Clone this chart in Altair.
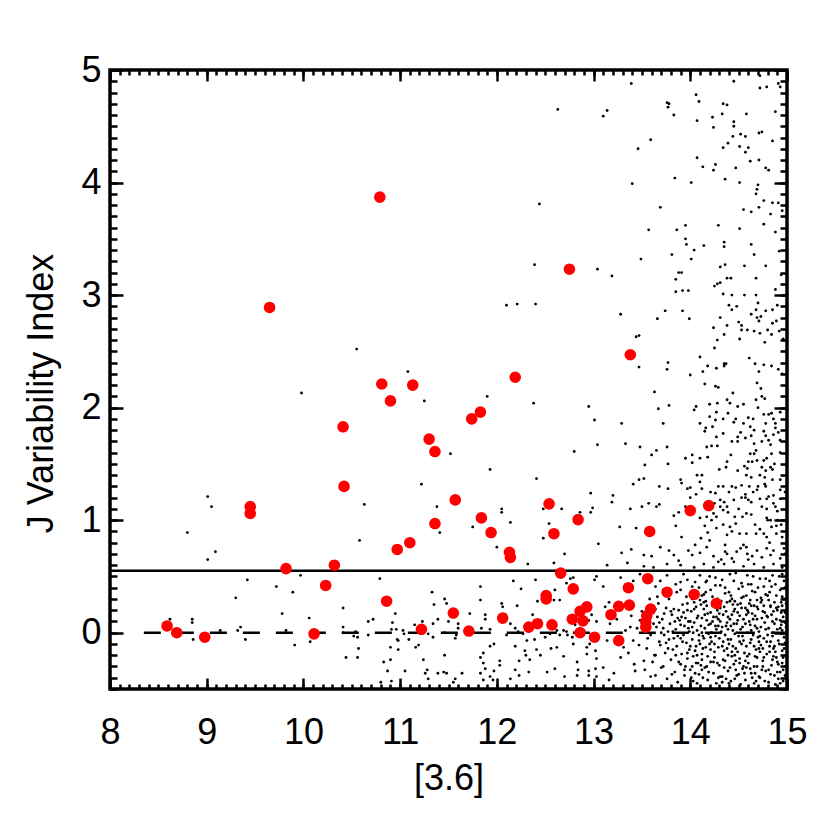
import altair as alt
import pandas as pd

# ---------------- data ----------------
# red: variable members  ([3.6] magnitude, J index)
members = [
    (10.79, 3.87), (9.65, 2.89), (10.81, 2.21), (11.13, 2.20), (10.90, 2.06), (10.41, 1.83),
    (11.30, 1.72), (11.36, 1.61), (10.42, 1.30), (9.45, 1.12), (9.45, 1.06), (11.36, 0.97),
    (11.10, 0.80), (10.97, 0.74), (10.32, 0.60), (9.82, 0.57), (10.23, 0.42), (10.86, 0.28),
    (8.59, 0.06), (8.69, 0.00), (8.98, -0.04), (10.11, -0.01), (11.22, 0.03), (11.57, 1.18),
    (12.75, 3.23), (13.38, 2.47), (12.19, 2.27), (11.83, 1.96), (11.74, 1.90), (12.54, 1.145),
    (11.84, 1.02), (12.84, 1.005), (11.94, 0.89), (12.59, 0.88), (13.58, 0.90), (14.00, 1.085),
    (14.19, 1.13), (12.13, 0.715), (12.14, 0.67), (12.66, 0.53), (13.56, 0.48), (13.36, 0.40),
    (12.79, 0.39), (12.51, 0.33), (12.51, 0.30), (13.76, 0.36), (14.04, 0.34), (14.27, 0.26),
    (11.55, 0.175), (11.71, 0.015), (12.06, 0.13), (12.33, 0.05), (12.42, 0.08), (12.57, 0.07),
    (12.78, 0.12), (12.86, 0.19), (12.93, 0.23), (12.89, 0.105), (12.86, 0.00), (13.01, -0.04),
    (13.18, 0.16), (13.26, 0.235), (13.37, 0.245), (13.26, -0.07), (13.59, 0.21), (13.55, 0.15),
    (13.54, 0.095), (13.54, 0.05),
]

# black: field sources, grouped by region of the plot
field_left = [
    (10.55, 2.52), (11.08, 2.32), (9.98, 2.13), (11.25, 2.06), (11.22, 1.32), (10.63, 1.14),
    (11.38, 1.12), (10.58, 0.82), (9.01, 1.21), (9.05, 1.12), (8.80, 0.89), (9.09, 0.72),
    (9.01, 0.65), (9.97, 0.51), (10.79, 0.48), (9.42, 0.47), (9.72, 0.41), (9.89, 0.36),
    (9.30, 0.31), (9.78, 0.17), (10.41, 0.22), (10.06, 0.13), (8.62, 0.12), (8.85, 0.12),
    (8.85, 0.09), (9.14, 0.02), (9.32, 0.02), (9.35, 0.05), (9.82, 0.02), (8.86, -0.06),
    (9.40, -0.06), (9.91, -0.11), (10.07, -0.08), (10.41, 0.05), (10.52, -0.03), (10.56, -0.04),
    (10.54, 0.01), (10.57, -0.14), (10.44, -0.22), (10.56, -0.22), (10.67, 0.10), (10.67, -0.02),
    (10.72, 0.12), (10.83, -0.26), (10.87, -0.34), (10.80, -0.44), (10.91, -0.43),
]
field_left_mid = [
    (10.41, 0.00), (10.95, 0.17), (10.92, 0.09), (10.91, 0.03), (10.96, 0.03), (11.03, 0.02),
    (11.04, -0.01), (10.97, -0.06), (10.98, -0.07), (11.09, -0.06), (11.34, -0.04), (11.29, -0.01),
    (10.90, -0.13), (10.98, -0.15), (11.19, -0.11), (11.16, -0.13), (10.90, -0.24), (11.24, -0.24),
    (11.05, -0.34), (11.28, -0.33), (11.26, -0.36), (11.29, -0.41), (11.39, -0.36), (11.33, 0.36),
    (11.35, 0.25), (11.39, 0.12), (11.34, 0.08), (11.23, 0.10), (11.15, 0.07),
]
field_mid_upper = [
    (12.63, 4.65), (12.44, 3.81), (12.39, 3.27), (13.04, 3.23), (13.19, 3.17), (12.10, 2.91),
    (12.21, 2.92), (12.40, 2.92), (13.28, 2.83), (13.44, 2.63), (13.47, 2.64), (13.47, 2.36),
    (13.49, 3.32), (13.57, 3.58), (11.90, 2.10), (12.38, 2.04), (12.95, 2.01), (13.01, 1.89),
    (13.04, 1.67), (12.80, 1.61), (11.52, 1.59), (11.93, 1.45), (12.41, 1.37), (12.97, 1.24),
    (12.99, 1.11), (12.97, 1.07), (12.86, 1.07), (12.05, 1.10), (12.05, 1.07), (12.48, 1.10),
    (12.67, 1.10), (12.14, 0.98), (11.75, 0.94), (12.54, 0.97), (12.48, 0.84), (11.41, 0.89),
]
field_top_right = [
    (13.39, 4.88), (13.14, 4.64), (13.10, 4.59), (13.76, 4.71), (13.78, 4.70), (13.77, 4.67),
    (13.83, 4.60), (14.06, 4.78), (14.09, 4.72), (14.07, 4.55), (14.45, 4.90), (14.72, 4.95),
    (14.72, 4.84), (14.79, 4.85), (14.91, 4.88), (14.93, 4.85), (14.34, 4.70), (14.38, 4.69),
    (14.33, 4.61), (14.23, 4.58), (14.24, 4.49), (14.45, 4.54), (14.45, 4.50), (14.58, 4.61),
    (14.88, 4.63), (13.59, 4.38), (13.46, 4.30), (14.44, 4.41), (14.52, 4.43), (14.57, 4.41),
    (14.71, 4.44), (14.74, 4.45), (14.85, 4.37), (14.39, 4.35), (14.34, 4.31), (14.51, 4.32),
    (14.60, 4.31), (14.57, 4.27), (14.07, 4.22), (14.13, 4.14), (14.26, 4.16), (14.24, 4.11),
    (14.47, 4.13), (14.62, 4.19), (14.71, 4.20), (14.78, 4.13), (14.81, 4.11), (13.40, 3.99),
    (13.84, 4.04), (14.01, 4.00), (14.36, 4.03), (14.51, 4.00), (14.70, 3.98), (14.69, 3.94),
    (14.68, 3.90), (14.76, 3.84), (14.85, 3.82), (14.91, 3.82), (13.69, 3.78), (14.55, 3.76),
    (14.63, 3.74), (14.71, 3.78), (14.83, 3.72), (14.95, 3.75),
]
field_upper_right = [
    (13.86, 3.58), (13.95, 3.62), (14.29, 3.62), (14.51, 3.59), (14.76, 3.63), (14.88, 3.56),
    (13.95, 3.50), (13.96, 3.45), (14.14, 3.44), (14.35, 3.47), (14.35, 3.43), (14.63, 3.45),
    (14.04, 3.40), (13.81, 3.36), (14.66, 3.36), (14.92, 3.39), (14.01, 3.32), (14.36, 3.27),
    (14.31, 3.25), (14.56, 3.26), (14.78, 3.26), (13.88, 3.20), (13.91, 3.20), (13.85, 3.14),
    (14.38, 3.15), (14.42, 3.15), (14.68, 3.15), (14.94, 3.18), (14.31, 3.11), (14.28, 3.10),
    (14.25, 3.08), (13.85, 3.03), (13.92, 3.04), (13.98, 3.04), (14.88, 3.05), (14.34, 3.01),
    (14.43, 3.00), (14.56, 3.00), (14.68, 3.00), (14.70, 2.93), (14.40, 2.91), (14.48, 2.90),
    (14.43, 2.87), (14.68, 2.87), (14.63, 2.83), (14.78, 2.86), (14.85, 2.87), (14.90, 2.91),
    (13.74, 2.86), (13.92, 2.86), (13.66, 2.79), (13.99, 2.79), (14.31, 2.80), (14.69, 2.80),
    (14.73, 2.81), (14.71, 2.77), (14.50, 2.76), (14.53, 2.73), (14.38, 2.73), (14.24, 2.71),
    (14.89, 2.77), (14.85, 2.75), (14.53, 2.69), (14.59, 2.69), (14.66, 2.68), (14.80, 2.69),
    (14.72, 2.66), (14.84, 2.65), (14.92, 2.68), (14.35, 2.65), (14.28, 2.60), (14.51, 2.61),
    (14.77, 2.58), (14.96, 2.61), (14.25, 2.53), (14.10, 2.45), (14.61, 2.44), (13.77, 2.40),
    (13.76, 2.34), (14.18, 2.37), (14.27, 2.35), (14.35, 2.39), (14.37, 2.39), (14.35, 2.37),
    (14.67, 2.39), (14.76, 2.38), (14.84, 2.37), (14.91, 2.34), (14.13, 2.32), (14.00, 2.29),
    (14.71, 2.32), (14.95, 2.30),
]
field_mid_right = [
    (13.63, 2.14), (14.15, 2.21), (14.26, 2.19), (14.29, 2.18), (14.69, 2.22), (14.73, 2.17),
    (14.44, 2.13), (14.74, 2.10), (14.77, 2.08), (14.68, 2.07), (13.78, 2.02), (13.67, 1.99),
    (14.06, 2.01), (14.04, 1.98), (14.20, 2.03), (14.28, 2.04), (14.38, 2.07), (14.41, 2.04),
    (14.49, 2.01), (14.55, 2.03), (14.27, 1.96), (14.39, 1.95), (14.76, 1.94), (14.81, 1.94),
    (14.84, 1.95), (14.93, 1.96), (14.20, 1.92), (14.26, 1.89), (14.34, 1.90), (14.60, 1.91),
    (14.65, 1.90), (14.86, 1.90), (14.88, 1.86), (13.29, 1.86), (13.72, 1.86), (14.10, 1.86),
    (14.45, 1.87), (14.55, 1.86), (14.16, 1.82), (14.23, 1.83), (14.62, 1.83), (14.78, 1.86),
    (14.15, 1.79), (14.34, 1.77), (14.52, 1.78), (14.66, 1.80), (14.76, 1.79), (14.86, 1.76),
    (14.91, 1.78), (14.27, 1.74), (14.49, 1.74), (14.57, 1.73), (14.63, 1.75), (14.78, 1.75),
    (14.81, 1.71), (14.43, 1.70), (14.49, 1.70), (14.93, 1.71), (13.33, 1.68), (14.66, 1.68),
    (14.83, 1.67), (13.48, 1.65), (13.76, 1.65), (14.17, 1.65), (14.22, 1.66), (14.28, 1.66),
    (13.65, 1.62), (13.60, 1.58), (14.02, 1.58), (14.10, 1.55), (13.95, 1.55), (14.18, 1.56),
    (14.62, 1.59), (14.66, 1.59), (14.84, 1.59), (14.60, 1.52), (14.64, 1.52), (14.69, 1.53),
    (14.76, 1.53), (14.79, 1.55), (14.38, 1.52), (14.02, 1.51), (13.77, 1.50), (13.53, 1.49),
    (14.37, 1.47), (14.59, 1.46), (14.74, 1.47), (14.78, 1.44), (14.83, 1.47), (14.85, 1.45),
    (14.49, 1.44), (14.58, 1.40), (14.63, 1.38), (14.72, 1.40), (14.77, 1.38), (14.07, 1.40),
    (13.52, 1.37), (13.47, 1.36), (13.90, 1.36), (14.85, 1.36), (14.93, 1.36), (13.41, 1.32),
    (13.91, 1.33), (14.10, 1.34), (13.68, 1.30), (13.97, 1.28), (14.00, 1.29), (14.12, 1.28),
    (14.29, 1.30), (14.34, 1.30), (14.43, 1.30), (14.47, 1.29), (14.53, 1.31), (14.61, 1.30),
    (14.70, 1.30), (14.69, 1.27), (14.78, 1.30), (13.77, 1.28), (14.93, 1.27), (14.21, 1.25),
    (14.26, 1.24), (14.06, 1.23), (14.00, 1.20), (14.57, 1.23), (14.57, 1.20), (14.86, 1.22),
    (14.81, 1.21), (13.20, 1.22), (13.19, 1.16), (14.31, 1.18), (14.35, 1.16), (14.45, 1.18),
    (14.60, 1.18), (14.63, 1.16), (14.72, 1.19), (14.79, 1.19), (14.93, 1.19), (13.57, 1.15),
    (13.50, 1.12), (13.38, 1.10), (13.68, 1.14), (13.65, 1.12), (14.31, 1.12), (14.38, 1.12),
    (14.34, 1.09), (14.39, 1.07), (14.74, 1.12), (14.79, 1.10), (14.88, 1.12), (14.24, 1.06),
    (13.83, 1.04), (13.88, 1.07), (14.10, 1.02), (14.17, 1.03), (14.22, 1.00), (14.27, 1.03),
    (14.46, 1.03), (14.54, 1.03), (14.58, 1.06), (14.79, 1.02), (14.83, 1.00), (14.90, 1.00),
    (14.94, 0.96), (13.27, 0.94), (13.44, 0.93), (14.34, 0.96), (14.41, 0.94), (14.67, 0.96),
    (14.84, 0.94), (14.89, 0.95), (14.27, 0.93), (14.38, 0.87), (14.43, 0.90), (14.51, 0.88),
    (14.58, 0.88), (14.68, 0.88), (14.76, 0.88), (14.79, 0.85), (14.89, 0.88), (13.91, 0.85),
    (14.11, 0.84), (14.18, 0.89),
]
field_right_extra = [
    (13.85, 0.95), (13.95, 1.12), (14.05, 0.78), (14.12, 1.40), (14.20, 0.82), (14.30, 1.45),
    (14.36, 0.72), (14.42, 1.58), (14.47, 0.97), (14.53, 1.20), (14.58, 0.76), (14.63, 1.05),
    (14.68, 1.62), (14.72, 0.92), (14.77, 1.32), (14.82, 0.80), (14.87, 1.50), (14.90, 1.08),
    (14.95, 0.85), (14.98, 1.25), (14.56, 1.48), (14.65, 1.25), (14.74, 1.70), (14.86, 1.15),
    (14.93, 1.60), (14.47, 1.90), (14.70, 2.00), (14.88, 1.82), (14.40, 1.25), (14.25, 1.15),
    (14.15, 0.95), (14.32, 0.65), (14.60, 0.65), (14.80, 1.00), (14.97, 0.75), (14.50, 1.10),
]
field_lower_mid = [
    (12.00, 0.76), (12.70, 0.70), (13.05, 0.79), (12.32, 0.61), (12.59, 0.62), (12.17, 0.46),
    (12.25, 0.39), (12.40, 0.47), (11.83, 0.41), (11.83, 0.29), (11.46, 0.30), (11.48, 0.26),
    (12.60, 0.38), (12.65, 0.29), (12.72, 0.44), (12.76, 0.48), (12.79, 0.49), (13.03, 0.50),
    (13.01, 0.47), (12.42, 0.28), (12.59, 0.29), (12.05, 0.26), (12.06, 0.23), (12.21, 0.24),
    (11.72, 0.17), (11.88, 0.16), (11.88, 0.12), (11.50, 0.10), (11.60, 0.08), (11.60, 0.04),
    (11.58, -0.02), (11.57, -0.05), (11.46, 0.00), (11.84, 0.04), (11.93, 0.03), (12.09, 0.16),
    (12.14, 0.08), (12.19, 0.04), (12.10, -0.02), (12.22, 0.01), (12.27, -0.01), (12.37, 0.16),
    (12.45, 0.11), (12.39, -0.06), (12.31, -0.07), (12.50, -0.04), (12.55, -0.01), (12.62, 0.02),
    (12.65, -0.02), (12.69, 0.02), (12.72, 0.01), (12.73, -0.02), (12.78, -0.04), (12.93, -0.13),
    (12.62, -0.13), (12.56, -0.14), (12.41, -0.15), (12.45, -0.20), (12.34, -0.24), (12.29, -0.16),
    (12.19, -0.12), (12.30, -0.20), (12.23, -0.25), (12.19, -0.33), (12.33, -0.35), (12.23, -0.38),
    (12.14, -0.41), (11.93, -0.12), (11.97, -0.10), (11.86, -0.18), (11.83, -0.22), (11.86, -0.27),
    (12.03, -0.25), (12.03, -0.29), (11.88, -0.32), (11.83, -0.36), (11.93, -0.39), (11.97, -0.34),
    (11.96, -0.42), (11.86, -0.42), (11.46, -0.20), (11.45, -0.35), (11.48, -0.36), (11.57, -0.41),
    (11.64, -0.36), (11.55, -0.44), (12.69, -0.21), (12.60, -0.32), (12.52, -0.35), (12.83, -0.26),
    (12.84, -0.33), (12.83, -0.38), (12.70, -0.39), (12.95, -0.34), (12.95, -0.38), (13.02, -0.32),
    (13.03, -0.39), (12.96, -0.10), (13.02, -0.16), (13.03, -0.23), (12.93, -0.19), (13.00, -0.01),
    (12.95, 0.11), (12.98, 0.16), (13.03, 0.10), (12.86, 0.04), (12.81, 0.07), (12.79, -0.10),
    (12.90, 0.02), (12.74, 0.13),
]
field_dense_upper = [
    (13.29, 0.71), (13.39, 0.74), (13.52, 0.69), (13.60, 0.68), (13.69, 0.76), (13.78, 0.73),
    (13.83, 0.69), (13.88, 0.64), (13.98, 0.73), (14.02, 0.69), (14.10, 0.71), (14.17, 0.76),
    (14.24, 0.68), (14.29, 0.63), (14.38, 0.70), (14.43, 0.66), (14.48, 0.72), (14.52, 0.75),
    (14.59, 0.70), (14.64, 0.68), (14.69, 0.73), (14.74, 0.67), (14.79, 0.75), (14.83, 0.69),
    (14.86, 0.73), (14.93, 0.66), (14.98, 0.70), (13.14, 0.60), (13.35, 0.62), (13.52, 0.59),
    (13.62, 0.58), (13.76, 0.61), (13.90, 0.60), (14.04, 0.58), (14.14, 0.61), (14.24, 0.58),
    (14.35, 0.61), (14.45, 0.63), (14.55, 0.59), (14.66, 0.61), (14.76, 0.58), (14.86, 0.61),
    (14.95, 0.58), (14.36, 0.78), (14.55, 0.78),
    (13.10, 0.41), (13.16, 0.27), (13.28, 0.49), (13.41, 0.46), (13.48, 0.52), (13.64, 0.41),
    (13.69, 0.46), (13.76, 0.51), (13.85, 0.43), (13.90, 0.38), (13.66, 0.32), (13.12, 0.23),
    (13.93, 0.52), (13.97, 0.47), (14.02, 0.41), (14.07, 0.35), (14.10, 0.51), (14.16, 0.45),
    (14.21, 0.38), (14.26, 0.49), (14.31, 0.42), (14.36, 0.35), (14.41, 0.52), (14.45, 0.46),
    (14.50, 0.39), (14.55, 0.32), (14.59, 0.51), (14.63, 0.43), (14.67, 0.36), (14.72, 0.48),
    (14.76, 0.41), (14.80, 0.33), (14.85, 0.51), (14.88, 0.43), (14.93, 0.38), (14.97, 0.46),
    (14.99, 0.30), (14.52, 0.26), (14.62, 0.29), (14.73, 0.27), (14.83, 0.24), (14.91, 0.23),
    (14.10, 0.29), (14.17, 0.24), (14.38, 0.27), (13.97, 0.26), (14.43, 0.30), (14.69, 0.23),
    (14.95, 0.52), (14.05, 0.45), (14.12, 0.33), (14.20, 0.50), (14.28, 0.30), (14.33, 0.47),
    (14.40, 0.36), (14.47, 0.53), (14.53, 0.44), (14.58, 0.33), (14.65, 0.50), (14.70, 0.40),
    (14.78, 0.48), (14.82, 0.36), (14.87, 0.27), (14.92, 0.50), (14.98, 0.40), (14.14, 0.27),
    (14.46, 0.28), (14.73, 0.31), (14.95, 0.32),
]
field_dense_core = [
    (13.62, 0.18), (13.65, 0.05), (13.68, -0.08), (13.71, 0.12), (13.73, -0.02), (13.75, 0.22),
    (13.77, -0.14), (13.79, 0.08), (13.63, -0.20), (13.70, 0.00), (13.66, 0.14), (13.74, -0.18),
    (13.81, 0.16), (13.83, -0.05), (13.85, 0.03), (13.86, -0.12), (13.88, 0.20), (13.90, 0.07),
    (13.91, -0.19), (13.93, -0.02), (13.95, 0.13), (13.96, -0.09), (13.98, 0.04), (13.99, -0.15),
    (13.84, 0.10), (13.92, 0.25), (14.01, 0.19), (14.02, -0.06), (14.04, 0.09), (14.05, -0.16),
    (14.07, 0.02), (14.08, 0.15), (14.10, -0.10), (14.11, 0.06), (14.13, -0.03), (14.14, 0.21),
    (14.16, -0.13), (14.17, 0.11), (14.19, -0.01), (14.03, -0.21), (14.12, -0.19), (14.18, 0.17),
    (14.21, 0.08), (14.22, -0.08), (14.24, 0.14), (14.25, -0.17), (14.27, 0.03), (14.28, 0.20),
    (14.30, -0.05), (14.31, 0.10), (14.33, -0.12), (14.34, 0.16), (14.36, -0.02), (14.37, 0.06),
    (14.39, -0.20), (14.23, 0.24), (14.29, -0.13), (14.35, 0.23), (14.41, 0.12), (14.42, -0.06),
    (14.44, 0.02), (14.45, 0.19), (14.47, -0.14), (14.48, 0.08), (14.50, -0.03), (14.51, 0.15),
    (14.53, -0.10), (14.54, 0.05), (14.56, -0.18), (14.57, 0.22), (14.59, 0.00), (14.43, -0.21),
    (14.49, 0.25), (14.55, -0.07), (14.61, 0.10), (14.62, -0.09), (14.64, 0.17), (14.65, -0.02),
    (14.67, 0.06), (14.68, -0.15), (14.70, 0.21), (14.71, 0.01), (14.73, -0.11), (14.74, 0.13),
    (14.76, -0.05), (14.77, 0.09), (14.79, -0.19), (14.63, 0.24), (14.69, -0.22), (14.75, 0.19),
    (14.81, 0.04), (14.82, -0.12), (14.84, 0.16), (14.85, -0.03), (14.87, 0.08), (14.88, -0.17),
    (14.90, 0.20), (14.91, -0.07), (14.93, 0.11), (14.94, -0.01), (14.96, 0.14), (14.97, -0.14),
    (14.99, 0.05), (14.83, 0.23), (14.89, -0.22), (14.95, 0.24),
    (13.64, 0.21), (13.69, -0.11), (13.72, 0.04), (13.78, -0.06), (13.80, 0.19), (13.82, 0.01),
    (13.87, -0.03), (13.89, 0.11), (13.94, 0.06), (13.97, -0.18), (14.00, 0.10), (14.03, 0.00),
    (14.06, 0.23), (14.09, -0.07), (14.12, 0.13), (14.15, 0.04), (14.20, -0.10), (14.23, 0.10),
    (14.26, -0.03), (14.29, 0.12), (14.32, 0.01), (14.35, -0.16), (14.38, 0.09), (14.40, -0.10),
    (14.43, 0.16), (14.46, -0.01), (14.49, -0.17), (14.52, 0.03), (14.55, 0.12), (14.58, -0.12),
    (14.60, 0.18), (14.63, 0.02), (14.66, -0.12), (14.69, 0.12), (14.72, -0.03), (14.75, -0.14),
    (14.78, 0.03), (14.80, 0.14), (14.83, -0.08), (14.86, 0.00), (14.89, 0.12), (14.92, -0.10),
    (14.95, 0.02), (14.98, 0.18), (14.97, -0.04),
    (13.17, 0.08), (13.24, 0.12), (13.38, 0.05), (13.41, -0.07), (13.48, 0.11), (13.59, -0.02),
    (13.14, -0.07), (13.31, -0.13), (13.55, -0.14), (13.62, 0.08),
]
field_dense_extra = [
    (13.33, 0.02), (13.36, -0.18), (13.39, 0.15), (13.42, -0.28), (13.45, 0.04), (13.47, -0.11),
    (13.50, 0.19), (13.53, -0.33), (13.56, -0.05), (13.58, 0.30), (13.61, -0.26), (13.64, -0.38),
    (13.67, 0.26), (13.70, -0.31), (13.72, 0.38), (13.75, -0.09), (13.78, 0.30), (13.81, -0.37),
    (13.83, 0.21), (13.86, 0.36), (13.88, -0.26), (13.91, 0.14), (13.94, -0.33), (13.96, 0.32),
    (13.99, 0.01), (14.01, -0.40), (14.04, 0.27), (14.06, -0.12), (14.09, 0.40), (14.11, -0.29),
    (14.14, -0.05), (14.16, 0.36), (14.19, -0.35), (14.21, 0.18), (14.24, -0.26), (14.26, 0.42),
    (14.29, 0.06), (14.31, -0.39), (14.34, -0.08), (14.36, 0.40), (14.39, 0.03), (14.41, -0.31),
    (14.44, 0.25), (14.46, -0.41), (14.49, 0.11), (14.51, -0.27), (14.54, 0.41), (14.56, -0.36),
    (14.59, 0.20), (14.61, -0.19), (14.64, 0.37), (14.66, -0.30), (14.69, 0.04), (14.71, -0.39),
    (14.74, 0.29), (14.76, -0.22), (14.79, 0.15), (14.81, -0.33), (14.84, 0.41), (14.86, -0.14),
    (14.89, 0.33), (14.91, -0.41), (14.94, 0.07), (14.96, -0.22), (14.99, 0.26),
    (13.68, 0.09), (13.73, 0.17), (13.77, 0.01), (13.82, -0.15), (13.87, 0.13), (13.92, -0.08),
    (13.97, 0.20), (14.02, 0.05), (14.07, -0.20), (14.12, 0.00), (14.16, 0.28), (14.21, -0.15),
    (14.26, 0.06), (14.30, 0.17), (14.34, -0.24), (14.39, 0.14), (14.44, -0.12), (14.48, 0.00),
    (14.53, 0.22), (14.57, -0.25), (14.62, 0.07), (14.67, 0.15), (14.71, -0.08), (14.76, 0.24),
    (14.80, -0.02), (14.85, -0.24), (14.90, 0.03), (14.94, 0.18), (14.98, -0.09), (14.42, 0.33),
    (14.60, 0.43), (14.82, 0.46), (14.17, 0.46), (13.90, 0.45), (14.33, -0.44), (14.64, -0.40),
    (14.93, -0.45), (14.07, -0.45), (13.85, -0.20), (14.47, -0.33), (14.72, -0.17), (14.98, -0.38),
]
field_dense_fill = [
    (13.90, -0.05), (13.93, 0.18), (13.95, -0.30), (13.98, 0.10), (14.00, -0.12), (14.02, 0.30),
    (14.05, -0.36), (14.07, 0.13), (14.09, -0.02), (14.11, 0.25), (14.13, -0.14), (14.15, 0.16),
    (14.17, -0.30), (14.19, 0.07), (14.21, -0.04), (14.23, 0.32), (14.25, -0.10), (14.27, 0.14),
    (14.29, -0.40), (14.31, 0.22), (14.33, 0.05), (14.35, -0.31), (14.37, 0.19), (14.39, -0.06),
    (14.41, 0.28), (14.43, -0.17), (14.45, 0.08), (14.47, -0.25), (14.49, 0.18), (14.51, -0.08),
    (14.53, 0.31), (14.55, -0.30), (14.57, 0.08), (14.59, -0.21), (14.61, 0.26), (14.63, -0.06),
    (14.65, 0.12), (14.67, -0.36), (14.69, 0.29), (14.71, -0.14), (14.73, 0.05), (14.75, -0.30),
    (14.77, 0.18), (14.79, -0.08), (14.81, 0.29), (14.83, -0.37), (14.85, 0.10), (14.87, -0.12),
    (14.89, 0.22), (14.91, -0.28), (14.93, 0.04), (14.95, -0.16), (14.97, 0.30), (14.99, -0.20),
    (14.04, 0.21), (14.08, -0.27), (14.14, 0.34), (14.18, -0.21), (14.22, 0.00), (14.28, -0.27),
    (14.32, 0.28), (14.38, -0.14), (14.42, 0.06), (14.46, 0.21), (14.50, -0.37), (14.54, -0.03),
    (14.58, 0.16), (14.62, -0.32), (14.66, 0.24), (14.70, -0.04), (14.74, -0.33), (14.78, 0.34),
    (14.82, -0.17), (14.86, 0.19), (14.90, -0.35), (14.94, 0.27), (14.98, 0.09), (14.12, -0.33),
    (14.40, -0.45), (14.68, -0.43), (14.96, -0.33),
]
field_dense_lower = [
    (13.10, -0.31), (13.21, -0.36), (13.28, -0.22), (13.43, -0.34), (13.52, -0.25), (13.59, -0.39),
    (13.64, -0.20), (13.16, -0.42), (13.72, -0.30), (13.76, -0.41), (13.80, -0.24), (13.84, -0.35),
    (13.87, -0.44), (13.90, -0.28), (13.94, -0.38), (13.97, -0.23), (14.00, -0.33), (14.03, -0.43),
    (14.06, -0.27), (14.09, -0.37), (14.12, -0.24), (14.15, -0.31), (14.18, -0.42), (14.21, -0.26),
    (14.24, -0.36), (14.27, -0.45), (14.30, -0.29), (14.33, -0.39), (14.36, -0.25), (14.39, -0.34),
    (14.42, -0.43), (14.45, -0.28), (14.48, -0.38), (14.51, -0.23), (14.54, -0.32), (14.57, -0.42),
    (14.60, -0.27), (14.63, -0.36), (14.66, -0.45), (14.69, -0.30), (14.72, -0.40), (14.75, -0.25),
    (14.78, -0.34), (14.81, -0.44), (14.84, -0.29), (14.87, -0.38), (14.90, -0.26), (14.93, -0.35),
    (14.96, -0.43), (14.98, -0.30), (14.02, -0.30), (14.13, -0.40), (14.25, -0.22), (14.37, -0.41),
    (14.46, -0.20), (14.58, -0.31), (14.67, -0.21), (14.77, -0.43), (14.86, -0.21), (14.95, -0.27),
    (14.88, -0.46), (14.52, -0.46),
]

threshold = 0.55          # solid horizontal line
zero_line = (8.35, 15.0)  # dashed line at J = 0, x extent

x_major = [8, 9, 10, 11, 12, 13, 14, 15]
y_major = [0, 1, 2, 3, 4, 5]
x_minor = [round(8 + 0.1 * i, 1) for i in range(71)]
y_minor = [round(-0.5 + 0.1 * i, 1) for i in range(56)]

# ---------------- tables ----------------
field_groups = [field_left, field_left_mid, field_mid_upper, field_top_right, field_upper_right,
                field_mid_right, field_right_extra, field_lower_mid, field_dense_upper,
                field_dense_core, field_dense_extra, field_dense_fill, field_dense_lower]
field_pts = [p for g in field_groups for p in g]
df_field = pd.DataFrame(field_pts, columns=["x", "y"])
df_mem = pd.DataFrame(members, columns=["x", "y"])
df_zero = pd.DataFrame({"x0": [zero_line[0]], "x1": [zero_line[1]], "y": [0.0]})
df_thr = pd.DataFrame({"x0": [8.0], "x1": [15.0], "y": [threshold]})

FONT = "Liberation Sans, Arial, Helvetica, sans-serif"
FS = 36
W, H = 677, 619

xs = alt.Scale(domain=[8, 15], nice=False, zero=False)
ys = alt.Scale(domain=[-0.5, 5], nice=False, zero=False)

XT, YT = 11, 13   # major tick lengths (x axis / y axis)
XM, YM = 5, 7     # minor tick lengths
TW = 2.5

common = dict(grid=False, domain=False, tickColor="black", tickWidth=TW,
              labelFlush=False, labelOverlap=False)

ax_bottom_major = alt.Axis(orient="bottom", values=x_major, tickSize=XT, offset=-XT,
                           labelFont=FONT, labelFontSize=FS, labelColor="black",
                           labelPadding=26, format="d",
                           title="[3.6]", titleFont=FONT, titleFontSize=FS,
                           titleFontWeight="normal", titleColor="black",
                           titleBaseline="alphabetic", titleY=XT + 100, **common)
ax_left_major = alt.Axis(orient="left", values=y_major, tickSize=YT, offset=-YT,
                         labelFont=FONT, labelFontSize=FS, labelColor="black",
                         labelPadding=9, format="d",
                         title="J Variability Index", titleFont=FONT, titleFontSize=FS,
                         titleFontWeight="normal", titleColor="black",
                         titleAngle=270, titleBaseline="alphabetic",
                         titleX=-(YT + 58), titleY=323, **common)
ax_bottom_minor = alt.Axis(orient="bottom", values=x_minor, tickSize=XM, offset=-XM,
                           labels=False, **common)
ax_left_minor = alt.Axis(orient="left", values=y_minor, tickSize=YM, offset=-YM,
                         labels=False, **common)
ax_top_major = alt.Axis(orient="top", values=x_major, tickSize=XT, offset=-XT,
                        labels=False, **common)
ax_right_major = alt.Axis(orient="right", values=y_major, tickSize=YT, offset=-YT,
                          labels=False, **common)
ax_top_minor = alt.Axis(orient="top", values=x_minor, tickSize=XM, offset=-XM,
                        labels=False, **common)
ax_right_minor = alt.Axis(orient="right", values=y_minor, tickSize=YM, offset=-YM,
                          labels=False, **common)

field_layer = alt.Chart(df_field).mark_circle(
    size=8, color="black", opacity=1, clip=True
).encode(
    x=alt.X("x:Q", scale=xs, axis=ax_bottom_major),
    y=alt.Y("y:Q", scale=ys, axis=ax_left_major),
)

zero_layer = alt.Chart(df_zero).mark_rule(
    color="black", strokeWidth=2.5, strokeDash=[17, 16], clip=True
).encode(
    x=alt.X("x0:Q", scale=xs, axis=ax_bottom_minor, title=None),
    x2="x1:Q",
    y=alt.Y("y:Q", scale=ys, axis=ax_left_minor, title=None),
)

thr_layer = alt.Chart(df_thr).mark_rule(
    color="black", strokeWidth=2.5, clip=True
).encode(
    x=alt.X("x0:Q", scale=xs, axis=ax_top_major, title=None),
    x2="x1:Q",
    y=alt.Y("y:Q", scale=ys, axis=ax_right_major, title=None),
)

member_layer = alt.Chart(df_mem).mark_circle(
    size=135, color="#ff0000", opacity=1, clip=True
).encode(
    x=alt.X("x:Q", scale=xs, axis=ax_top_minor, title=None),
    y=alt.Y("y:Q", scale=ys, axis=ax_right_minor, title=None),
)

chart = alt.layer(field_layer, zero_layer, thr_layer, member_layer).resolve_axis(
    x="independent", y="independent"
).properties(
    width=W, height=H,
    autosize=alt.AutoSizeParams(type="none"),
    padding={"left": 102, "top": 62, "right": 25, "bottom": 130},
    background="white",
).configure_view(
    stroke="black", strokeWidth=3.5
)

chart.save("out.html", embed_options={"renderer": "svg", "actions": False})
